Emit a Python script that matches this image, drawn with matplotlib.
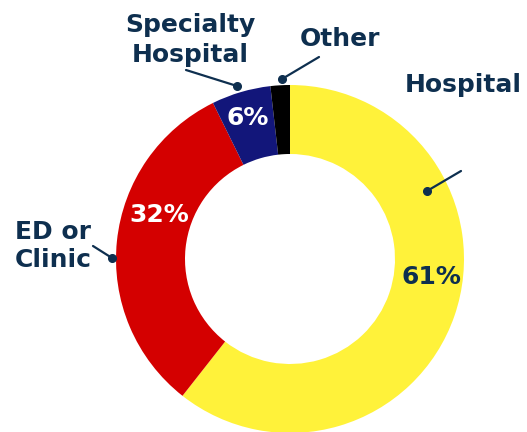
import matplotlib.pyplot as plt

# share of visits by setting (percent)
categories = ["Hospital", "ED or Clinic", "Specialty Hospital", "Other"]
shares = [60.6, 32.1, 5.5, 1.8]
pct_labels = ["61%", "32%", "6%", ""]
colors = ["#FFF23A", "#D40000", "#12167A", "#000000"]

W, H = 527, 432
NAVY = "#0E2F4F"

fig = plt.figure(figsize=(W / 100, H / 100), dpi=100)
ax = fig.add_axes([0, 0, 1, 1])

# pixel helper: picture coords (y down) -> axes coords (y up)
def px(x, y):
    return (x, H - y)

ax.pie(shares, colors=colors, startangle=90, counterclock=False,
       radius=174, center=px(290, 259), frame=True,
       wedgeprops=dict(width=69, edgecolor="none", linewidth=0))

font = dict(family="DejaVu Sans", fontweight="bold", fontsize=18)

# percentage labels inside the ring
pct_pos = [(431, 277), (159, 215), (248, 118)]
pct_color = [NAVY, "white", "white"]
for lab, pos, c in zip(pct_labels, pct_pos, pct_color):
    ax.text(*px(*pos), lab, color=c, ha="center", va="center", **font)

# category labels with leader lines ending in a dot
callouts = [
    ("Hospital", (463, 85), (461, 171), (427, 191), 1.2),
    ("ED or\nClinic", (53, 246), (93, 246), (112, 258), 1.2),
    ("Specialty\nHospital", (190, 40), (186, 70), (237, 86), 1.3),
    ("Other", (340, 39), (319, 57), (282, 79), 1.2),
]
for text, tpos, lstart, dot, ls in callouts:
    ax.text(*px(*tpos), text, color=NAVY, ha="center", va="center",
            linespacing=ls, **font)
    ax.plot([lstart[0], dot[0]], [H - lstart[1], H - dot[1]],
            color=NAVY, lw=1.6, solid_capstyle="round")
    ax.plot(dot[0], H - dot[1], "o", color=NAVY, ms=5.5)

ax.set_xlim(0, W)
ax.set_ylim(0, H)
ax.set_aspect("equal")
ax.axis("off")

fig.savefig("out.png", dpi=100, facecolor="white")
